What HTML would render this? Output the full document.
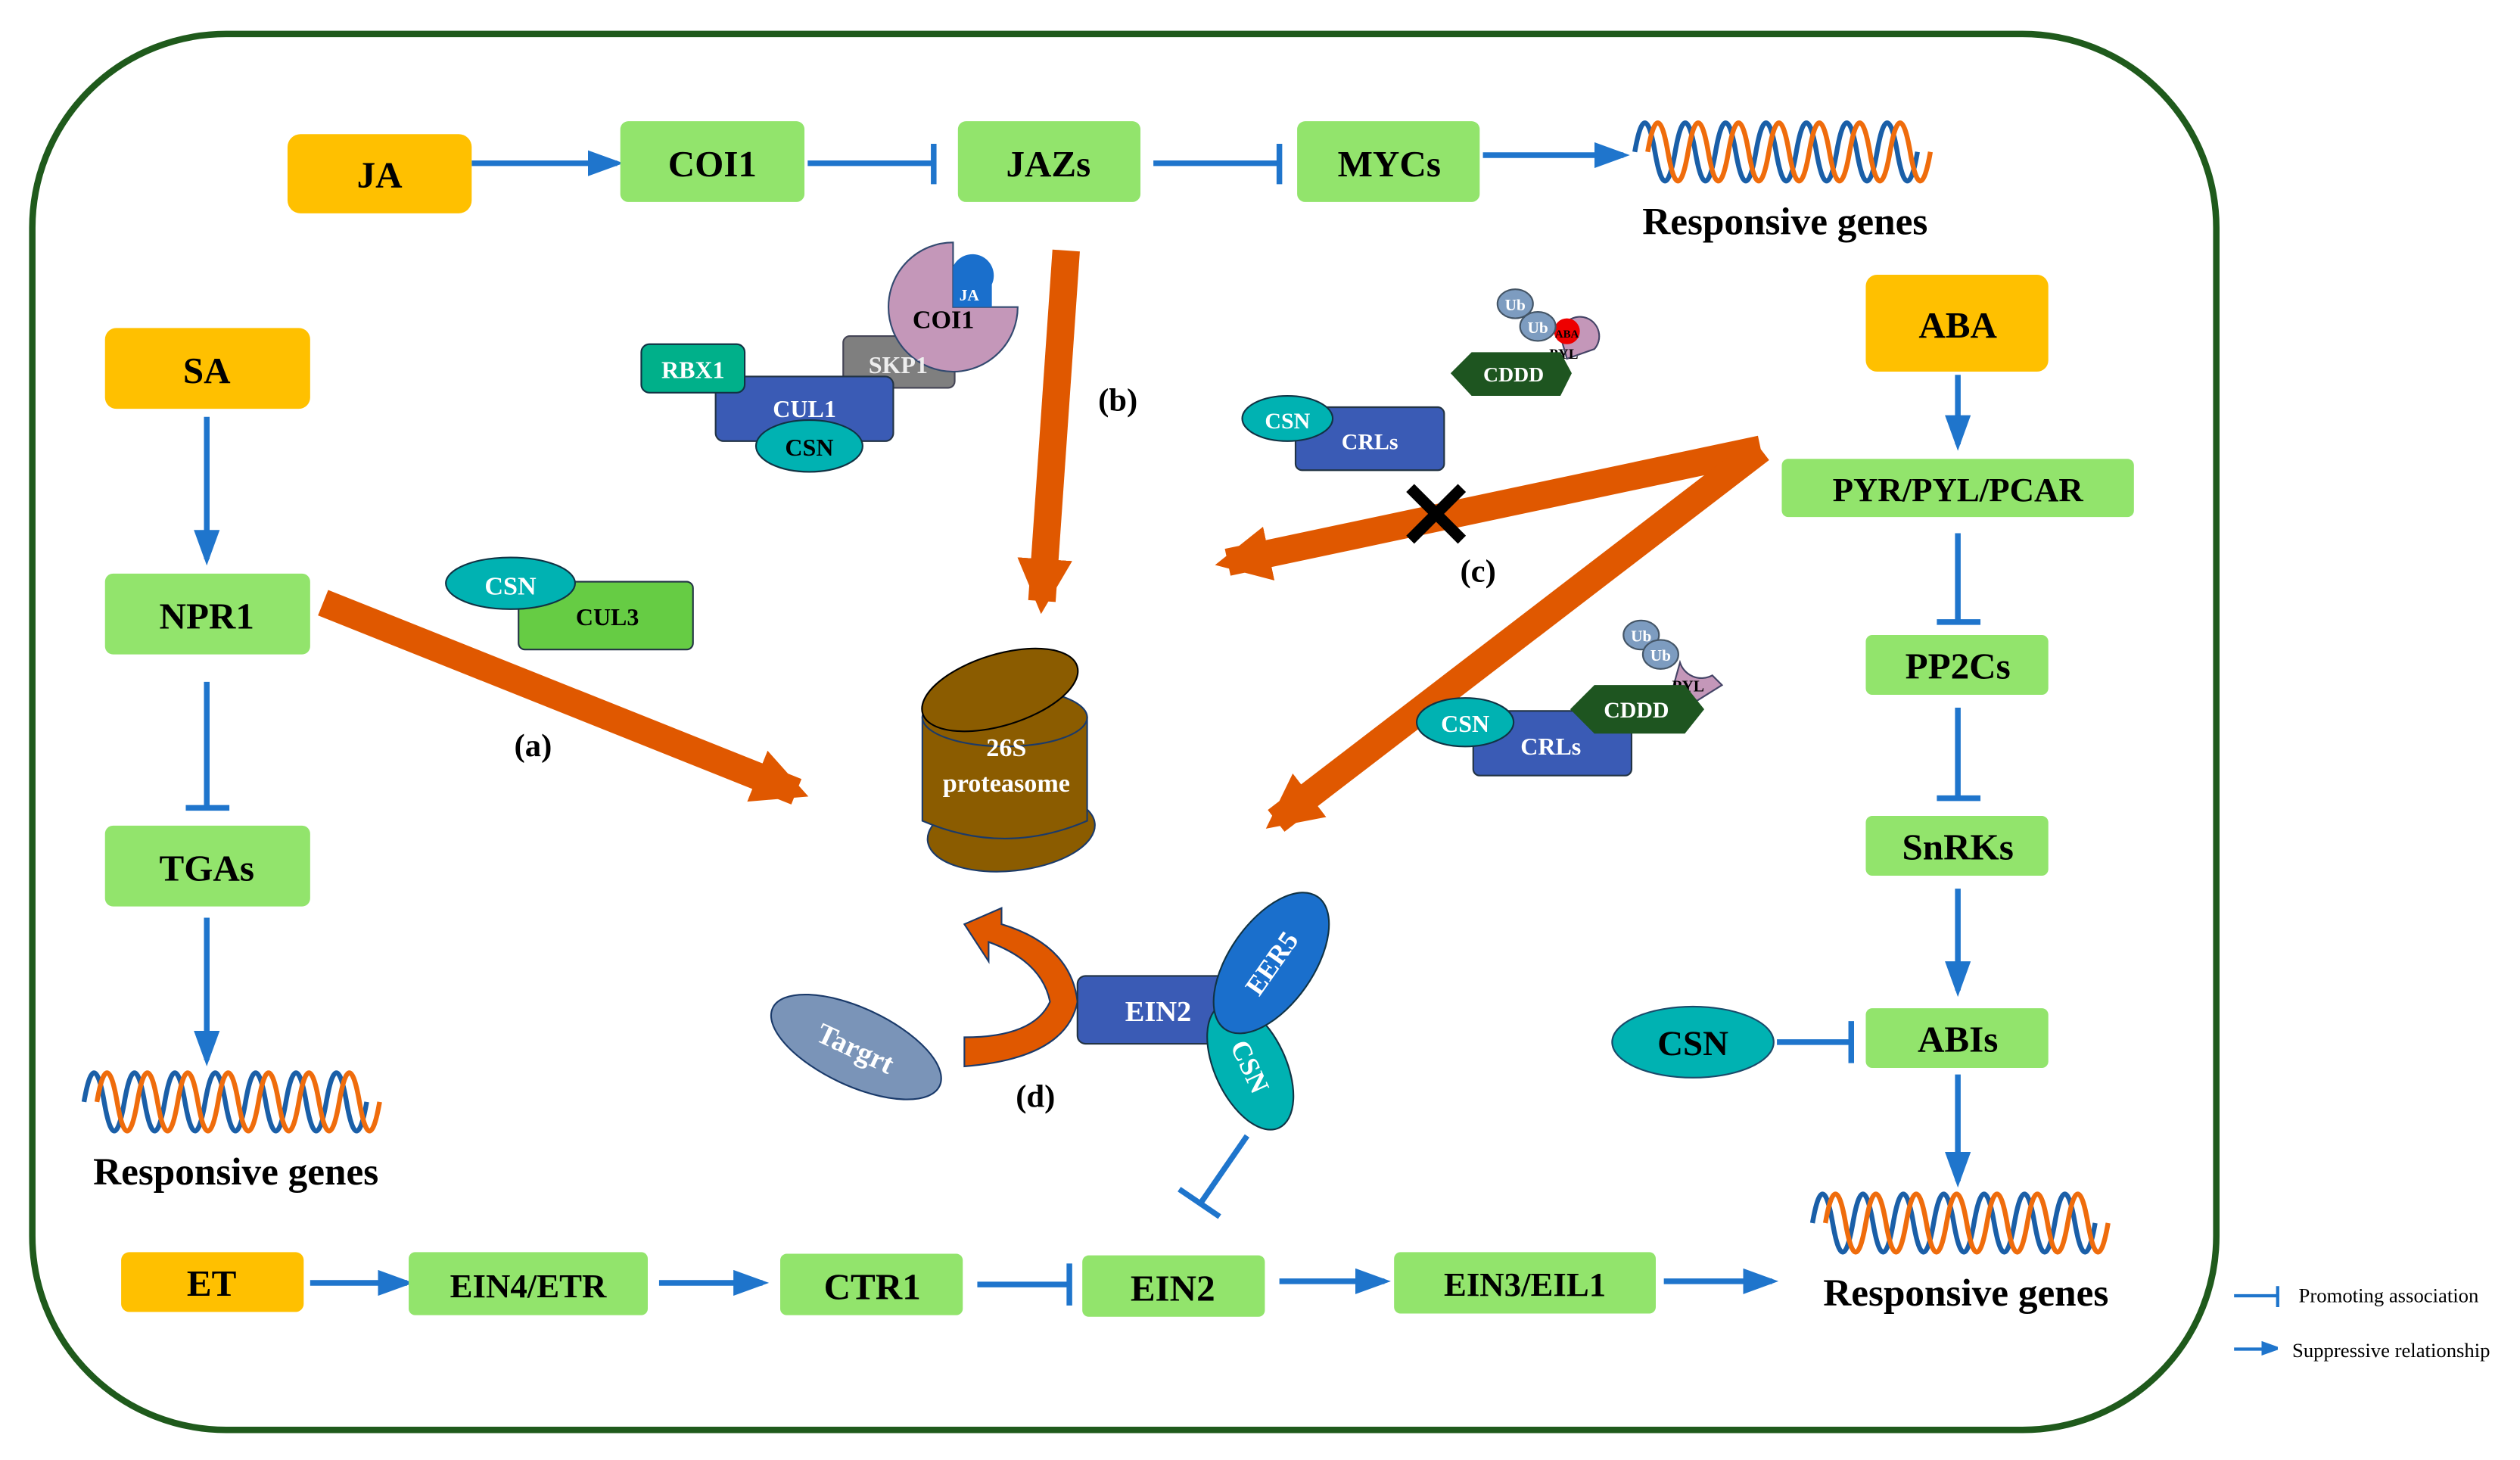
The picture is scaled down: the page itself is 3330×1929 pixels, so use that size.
<!DOCTYPE html>
<html><head><meta charset="utf-8"><style>
html,body{margin:0;padding:0;background:#fff;}
svg{display:block;}
text{font-family:"Liberation Serif",serif;font-weight:bold;}
</style></head><body>
<svg width="3330" height="1929" viewBox="0 0 1560 903.6" xmlns="http://www.w3.org/2000/svg">
<defs>
<marker id="ah" markerWidth="10" markerHeight="10" refX="8" refY="5" orient="auto" markerUnits="userSpaceOnUse"><path d="M0,0 L0,0 L14,5 L0,10z" fill="#1f75cc" transform="scale(0.9)"/></marker>
<marker id="ab" markerWidth="22" markerHeight="16" refX="18" refY="8" orient="auto" markerUnits="userSpaceOnUse"><path d="M0,0 L22,8 L0,16z" fill="#1f75cc"/></marker>
<marker id="ao" markerWidth="34" markerHeight="34" refX="26" refY="17" orient="auto" markerUnits="userSpaceOnUse"><path d="M0,0 L34,17 L0,34z" fill="#e05800"/></marker>
<path id="hx" d="M0,0 q6.25,-36 12.5,0 t12.5,0 t12.5,0 t12.5,0 t12.5,0 t12.5,0 t12.5,0 t12.5,0 t12.5,0 t12.5,0 t12.5,0 t12.5,0 t12.5,0 t12.5,0"/>
</defs>
<rect x="20" y="21" width="1352" height="864" rx="120" ry="120" fill="none" stroke="#1f5a1c" stroke-width="4"/>

<g fill="none" stroke="#1f75cc" stroke-width="3.5">
<line x1="292" y1="101" x2="382" y2="101" marker-end="url(#ab)"/>
<line x1="500" y1="101" x2="578" y2="101"/><line x1="578" y1="89" x2="578" y2="114"/>
<line x1="714" y1="101" x2="792" y2="101"/><line x1="792" y1="89" x2="792" y2="114"/>
<line x1="918" y1="96" x2="1005" y2="96" marker-end="url(#ab)"/>
<line x1="128" y1="258" x2="128" y2="346" marker-end="url(#ab)"/>
<line x1="128" y1="422" x2="128" y2="500"/><line x1="115" y1="500" x2="142" y2="500"/>
<line x1="128" y1="568" x2="128" y2="656" marker-end="url(#ab)"/>
<line x1="1212" y1="232" x2="1212" y2="275" marker-end="url(#ab)"/>
<line x1="1212" y1="330" x2="1212" y2="385"/><line x1="1199" y1="385" x2="1226" y2="385"/>
<line x1="1212" y1="438" x2="1212" y2="494"/><line x1="1199" y1="494" x2="1226" y2="494"/>
<line x1="1212" y1="550" x2="1212" y2="613" marker-end="url(#ab)"/>
<line x1="1100" y1="645" x2="1146" y2="645"/><line x1="1146" y1="632" x2="1146" y2="658"/>
<line x1="1212" y1="665" x2="1212" y2="731" marker-end="url(#ab)"/>
<line x1="192" y1="794" x2="252" y2="794" marker-end="url(#ab)"/>
<line x1="408" y1="794" x2="472" y2="794" marker-end="url(#ab)"/>
<line x1="605" y1="795" x2="662" y2="795"/><line x1="662" y1="782" x2="662" y2="808"/>
<line x1="792" y1="793" x2="857" y2="793" marker-end="url(#ab)"/>
<line x1="1030" y1="793" x2="1097" y2="793" marker-end="url(#ab)"/>
<line x1="772" y1="703" x2="743" y2="745"/><line x1="730" y1="736" x2="755" y2="753"/>
<line x1="1383" y1="802" x2="1410" y2="802" stroke-width="2"/><line x1="1410" y1="796" x2="1410" y2="809" stroke-width="2"/>
<line x1="1383" y1="835" x2="1408" y2="835" stroke-width="2" marker-end="url(#ah)"/>
</g>
<text x="1423" y="806" font-size="12.5" font-weight="normal" style="font-weight:normal">Promoting association</text>
<text x="1419" y="840" font-size="12.5" style="font-weight:normal">Suppressive relationship</text>

<!-- DNA helices -->
<g fill="none" stroke-width="3">
<use href="#hx" x="1012" y="94" stroke="#1a5fa8"/><use href="#hx" x="1020" y="94" stroke="#ef6c0c" transform="translate(0,0)"/>
<use href="#hx" x="52" y="682" stroke="#1a5fa8"/><use href="#hx" x="60" y="682" stroke="#ef6c0c"/>
<use href="#hx" x="1122" y="757" stroke="#1a5fa8"/><use href="#hx" x="1130" y="757" stroke="#ef6c0c"/>
</g>
<g font-size="24" text-anchor="middle">
<text x="1105" y="145">Responsive genes</text>
<text x="146" y="733">Responsive genes</text>
<text x="1217" y="808">Responsive genes</text>
</g>

<!-- boxes -->
<g fill="#ffc000"><rect x="178" y="83" width="114" height="49" rx="8"/><rect x="65" y="203" width="127" height="50" rx="7"/><rect x="1155" y="170" width="113" height="60" rx="7"/><rect x="75" y="775" width="113" height="37" rx="5"/></g>
<g fill="#92e46c">
<rect x="384" y="75" width="114" height="50" rx="5"/><rect x="593" y="75" width="113" height="50" rx="5"/><rect x="803" y="75" width="113" height="50" rx="5"/>
<rect x="65" y="355" width="127" height="50" rx="5"/><rect x="65" y="511" width="127" height="50" rx="5"/>
<rect x="1103" y="284" width="218" height="36" rx="4"/><rect x="1155" y="393" width="113" height="37" rx="4"/><rect x="1155" y="505" width="113" height="37" rx="4"/><rect x="1155" y="624" width="113" height="37" rx="4"/>
<rect x="253" y="775" width="148" height="39" rx="4"/><rect x="483" y="776" width="113" height="38" rx="4"/><rect x="670" y="777" width="113" height="38" rx="4"/><rect x="863" y="775" width="162" height="38" rx="4"/>
</g>
<g font-size="23" text-anchor="middle">
<text x="235" y="116">JA</text><text x="441" y="109">COI1</text><text x="649" y="109">JAZs</text><text x="860" y="109">MYCs</text>
<text x="128" y="237">SA</text><text x="128" y="389">NPR1</text><text x="128" y="545">TGAs</text>
<text x="1212" y="209">ABA</text><text x="1212" y="310" font-size="21">PYR/PYL/PCAR</text><text x="1212" y="420">PP2Cs</text><text x="1212" y="532">SnRKs</text><text x="1212" y="651">ABIs</text>
<text x="131" y="802">ET</text><text x="327" y="803" font-size="21">EIN4/ETR</text><text x="540" y="804">CTR1</text><text x="726" y="805">EIN2</text><text x="944" y="802" font-size="21">EIN3/EIL1</text>
</g>
<ellipse cx="1048" cy="645" rx="50" ry="22" fill="#00b2b2" stroke="#1a4a6a"/>
<text x="1048" y="653" font-size="22" text-anchor="middle">CSN</text>

<!-- orange arrows -->
<g stroke="#e05800" stroke-width="17" fill="none">
<line x1="660" y1="155" x2="645" y2="372" marker-end="url(#ao)"/>
<line x1="200" y1="373" x2="493" y2="490" marker-end="url(#ao)"/>
<line x1="1090" y1="278" x2="760" y2="348" marker-end="url(#ao)"/>
<line x1="1090" y1="278" x2="790" y2="508" marker-end="url(#ao)"/>
</g>
<g stroke="#000" stroke-width="7"><line x1="873" y1="302" x2="905" y2="334"/><line x1="905" y1="302" x2="873" y2="334"/></g>
<g font-size="20" text-anchor="middle"><text x="330" y="468">(a)</text><text x="692" y="254">(b)</text><text x="915" y="360">(c)</text><text x="641" y="685">(d)</text></g>

<!-- CUL1 complex -->
<rect x="522" y="208" width="69" height="32" rx="4" fill="#7f7f7f" stroke="#445"/>
<path d="M590,190 L630,190 A40,40 0 1 1 590,150 Z" fill="#c497b9" stroke="#334a70"/>
<path d="M590,190 L590,165 A13,13 0 0 1 614,176 L614,190Z" fill="#1a6fcc"/>
<text x="600" y="186" font-size="10" fill="#fff" text-anchor="middle">JA</text>
<text x="584" y="203" font-size="16" text-anchor="middle">COI1</text>
<text x="556" y="231" font-size="15" fill="#eee" text-anchor="middle">SKP1</text>
<rect x="443" y="233" width="110" height="40" rx="5" fill="#3a5bb5" stroke="#234"/>
<rect x="397" y="213" width="64" height="30" rx="5" fill="#00b08a" stroke="#134"/>
<text x="429" y="234" font-size="15" fill="#fff" text-anchor="middle">RBX1</text>
<text x="498" y="258" font-size="15" fill="#fff" text-anchor="middle">CUL1</text>
<ellipse cx="501" cy="276" rx="33" ry="16" fill="#00b2b2" stroke="#134"/>
<text x="501" y="282" font-size="15" text-anchor="middle">CSN</text>

<!-- CUL3 -->
<rect x="321" y="360" width="108" height="42" rx="4" fill="#66cc44" stroke="#234"/>
<text x="376" y="387" font-size="15" text-anchor="middle">CUL3</text>
<ellipse cx="316" cy="361" rx="40" ry="16" fill="#00b2b2" stroke="#134"/>
<text x="316" y="368" font-size="16" fill="#fff" text-anchor="middle">CSN</text>

<!-- CRLs top -->
<rect x="802" y="252" width="92" height="39" rx="4" fill="#3a5bb5" stroke="#234"/>
<text x="848" y="278" font-size="14" fill="#fff" text-anchor="middle">CRLs</text>
<ellipse cx="797" cy="259" rx="28" ry="14" fill="#00b2b2" stroke="#134"/>
<text x="797" y="265" font-size="14" fill="#fff" text-anchor="middle">CSN</text>
<path d="M966,208 A12,12 0 1 1 987,216 L970,222Z" fill="#c497b9" stroke="#446"/>
<circle cx="970" cy="205" r="8" fill="#e00"/>
<text x="970" y="209" font-size="7" text-anchor="middle">ABA</text>
<text x="968" y="222" font-size="9" text-anchor="middle">PYL</text>
<path d="M898,231 L911,218 L966,218 L973,231 L966,245 L911,245Z" fill="#1e5520"/>
<text x="937" y="236" font-size="13" fill="#fff" text-anchor="middle">CDDD</text>
<ellipse cx="938" cy="188" rx="11" ry="9" fill="#7d9cc0" stroke="#456"/><ellipse cx="952" cy="202" rx="11" ry="9" fill="#7d9cc0" stroke="#456"/>
<text x="938" y="192" font-size="10" fill="#fff" text-anchor="middle">Ub</text><text x="952" y="206" font-size="10" fill="#fff" text-anchor="middle">Ub</text>

<!-- CRLs bottom -->
<rect x="912" y="440" width="98" height="40" rx="4" fill="#3a5bb5" stroke="#234"/>
<text x="960" y="467" font-size="15" fill="#fff" text-anchor="middle">CRLs</text>
<path d="M1040,410 A14,14 0 0 0 1060,418 L1066,424 L1050,434 L1035,428 Z" fill="#c497b9" stroke="#446"/>
<text x="1045" y="428" font-size="10" text-anchor="middle">PYL</text>
<path d="M972,439 L987,424 L1043,424 L1055,439 L1043,454 L987,454Z" fill="#1e5520"/>
<text x="1013" y="444" font-size="14" fill="#fff" text-anchor="middle">CDDD</text>
<ellipse cx="1016" cy="393" rx="11" ry="9" fill="#7d9cc0" stroke="#456"/><ellipse cx="1028" cy="405" rx="11" ry="9" fill="#7d9cc0" stroke="#456"/>
<text x="1016" y="397" font-size="10" fill="#fff" text-anchor="middle">Ub</text><text x="1028" y="409" font-size="10" fill="#fff" text-anchor="middle">Ub</text>
<ellipse cx="907" cy="447" rx="30" ry="15" fill="#00b2b2" stroke="#134"/>
<text x="907" y="453" font-size="15" fill="#fff" text-anchor="middle">CSN</text>

<!-- proteasome -->
<g stroke="#1a3a6a" stroke-width="1">
<ellipse cx="626" cy="515" rx="52" ry="24" fill="#8b5c00" transform="rotate(-6 626 515)"/>
<path d="M571,444 L571,508 Q622,530 673,508 L673,444 Z" fill="#8b5c00"/>
<ellipse cx="622" cy="444" rx="51" ry="18" fill="#8b5c00"/>
<ellipse cx="619" cy="427" rx="50" ry="22" fill="#8b5c00" stroke="#000" transform="rotate(-17 619 427)"/>
</g>
<text x="623" y="468" font-size="16" fill="#fff" text-anchor="middle">26S</text>
<text x="623" y="490" font-size="16" fill="#fff" text-anchor="middle">proteasome</text>

<!-- EIN2 complex -->
<ellipse cx="530" cy="648" rx="57" ry="24" fill="#7a94b8" stroke="#1a3a6a" transform="rotate(25 530 648)"/>
<text x="530" y="655" font-size="18" fill="#fff" text-anchor="middle" transform="rotate(25 530 648)">Targrt</text>
<path d="M597,660 L597,642 Q640,642 650,620 Q645,595 612,583 L612,595 L597,572 L620,562 L620,572 Q663,585 667,620 Q660,655 597,660Z" fill="#e05800" stroke="#1a3a6a"/>
<rect x="667" y="604" width="105" height="42" rx="5" fill="#3a5bb5" stroke="#234"/>
<text x="717" y="632" font-size="18" fill="#fff" text-anchor="middle">EIN2</text>
<ellipse cx="774" cy="660" rx="42" ry="22" fill="#00b2b2" stroke="#134" transform="rotate(65 774 660)"/>
<text x="774" y="666" font-size="17" fill="#fff" text-anchor="middle" transform="rotate(65 774 660)">CSN</text>
<ellipse cx="787" cy="596" rx="50" ry="26" fill="#1a6fcc" stroke="#134" transform="rotate(-55 787 596)"/>
<text x="787" y="602" font-size="17" fill="#fff" text-anchor="middle" transform="rotate(-55 787 596)">EER5</text>
</svg>
</body></html>
